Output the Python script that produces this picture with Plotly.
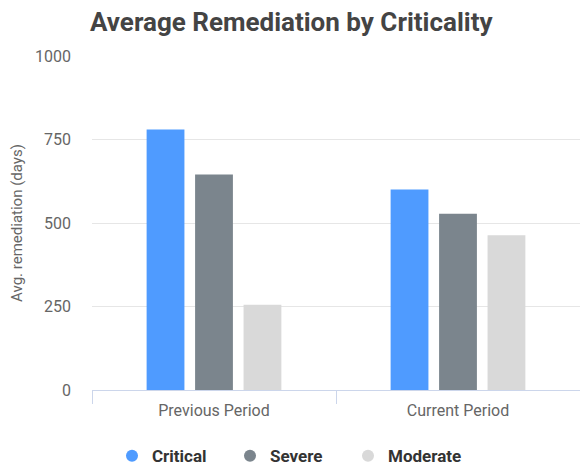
import plotly.graph_objects as go

categories = ["Previous Period", "Current Period"]
series_names = ["Critical", "Severe", "Moderate"]
critical = [780, 600]
severe = [645, 528]
moderate = [255, 463]
colors = ["#4f9bff", "#7b858d", "#d9d9d9"]
y_ticks = [0, 250, 500, 750, 1000]

fig = go.Figure()
for name, vals, col in zip(series_names, [critical, severe, moderate], colors):
    fig.add_trace(go.Bar(x=categories, y=vals, name=name, marker_color=col,
                         marker_line_width=0, showlegend=False))
for name, col in zip(series_names, colors):
    fig.add_trace(go.Scatter(x=[None], y=[None], mode="markers", name=name,
                             marker=dict(symbol="circle", size=17, color=col)))

fig.update_layout(
    width=580, height=468,
    margin=dict(l=92, r=0, t=56, b=78, autoexpand=False),
    paper_bgcolor="white", plot_bgcolor="white",
    font=dict(family="Roboto", size=16, color="#555"),
    title=dict(text="<b>Average Remediation by Criticality</b>",
               x=90/580, xanchor="left", y=1-22/468, yanchor="middle",
               font=dict(family="Roboto", size=26, color="#444")),
    barmode="group", bargap=0.404, bargroupgap=0.22,
    legend=dict(orientation="h", x=(112-92)/488, xanchor="left", y=-0.198, yanchor="middle",
                font=dict(family="Roboto", size=17, color="#333", weight="bold"),
                itemsizing="constant", traceorder="normal", entrywidth=73),
    xaxis=dict(showline=True, linecolor="#ccd6eb", ticks="outside", tickson="boundaries",
               tickcolor="#ccd6eb", ticklen=13, ticklabelstandoff=6, automargin=False,
               tickfont=dict(color="#666", size=16)),
    yaxis=dict(range=[0, 1000], tickvals=y_ticks, gridcolor="#e6e6e6", zeroline=False,
               tickfont=dict(color="#666", size=16), ticklabelstandoff=20, automargin=False,
               title=dict(text="Avg. remediation (days)", font=dict(color="#666", size=15), standoff=8)),
)
fig.write_html("out.html", config={"displayModeBar": False},
               post_script="document.body.style.margin='0';")
